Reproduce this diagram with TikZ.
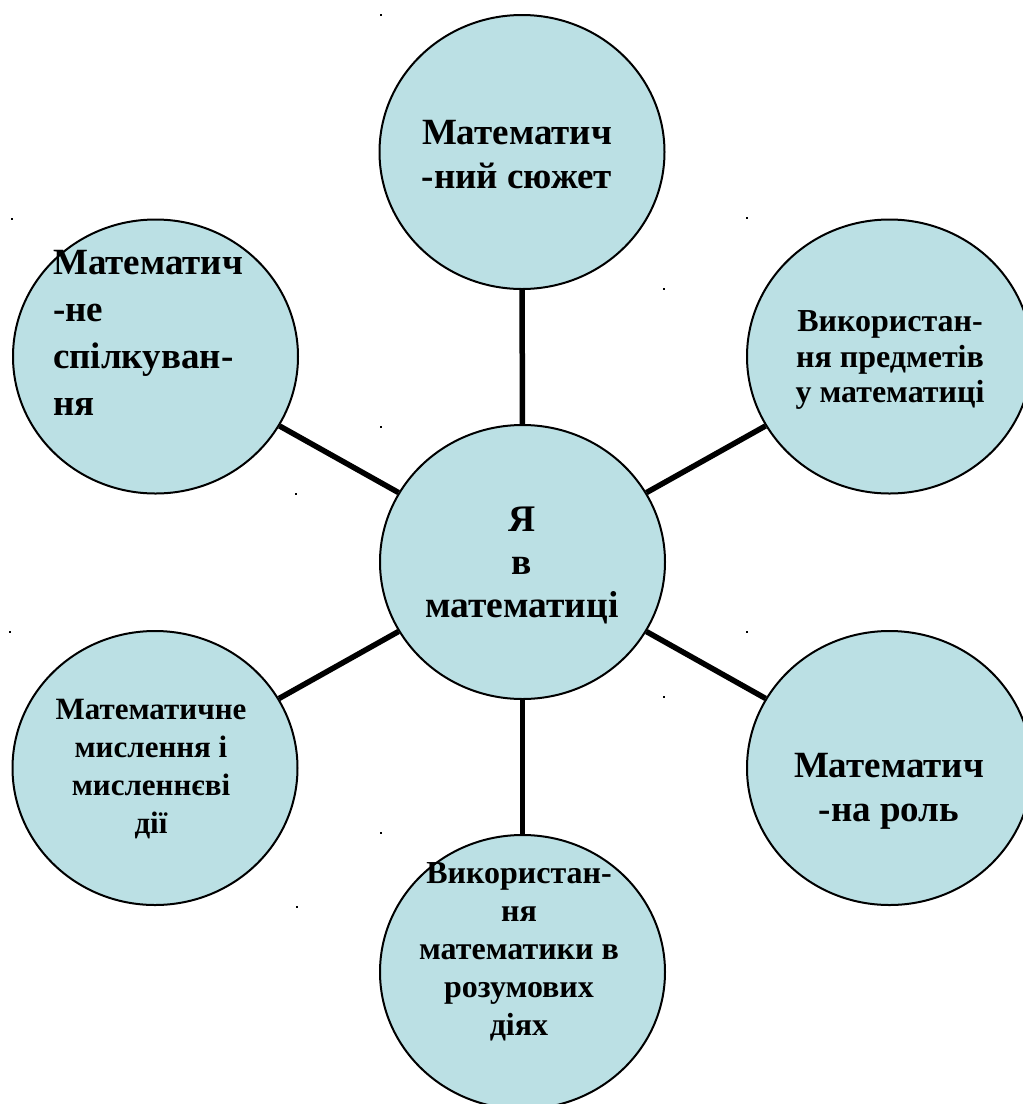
\documentclass[tikz,border=0pt]{standalone}
\usepackage{fontspec}
\setmainfont{Liberation Serif}
\usetikzlibrary{shapes.geometric}
\definecolor{bubble}{RGB}{187,224,228}
\begin{document}
\begin{tikzpicture}[x=1pt,y=-1pt,
  bub/.style={ellipse,draw=black,line width=2pt,fill=bubble,minimum width=285pt,minimum height=274pt,inner sep=0pt},
  bigtxt/.style={font=\bfseries\fontsize{37}{44}\selectfont,align=center,inner sep=0pt},
  smalltxt/.style={font=\bfseries\fontsize{32}{37}\selectfont,align=center,inner sep=0pt},
  link/.style={line width=5.5pt,draw=black},
  speck/.style={fill=black}]
\useasboundingbox (0,0) rectangle (1023,1104);
\fill[white] (0,0) rectangle (1023,1104);
% circles
\node[bub] (c0) at (522.5,562) {};
\node[bub] (c1) at (522,152) {};
\node[bub] (c2) at (889.5,356.5) {};
\node[bub] (c3) at (889.5,768) {};
\node[bub] (c4) at (522.5,972) {};
\node[bub] (c5) at (155,768) {};
\node[bub] (c6) at (155.5,356.5) {};
% connectors
\draw[link] (c0) -- (c1);
\draw[link] (c0) -- (c2);
\draw[link] (c0) -- (c3);
\draw[link] (c0) -- (c4);
\draw[link] (c0) -- (c5);
\draw[link] (c0) -- (c6);
% texts
\node[bigtxt,font=\bfseries\fontsize{37.5}{43}\selectfont] (t0) at (522,565) {Я\\в\\математиці};
\node[bigtxt] (t1) at (517,155) {Математич\\-ний сюжет};
\node[smalltxt,font=\bfseries\fontsize{32}{35.5}\selectfont] (t2) at (890,360) {Використан-\\ня предметів\\у математиці};
\node[bigtxt] (t3) at (889,791) {Математич\\-на роль};
\node[smalltxt,font=\bfseries\fontsize{32}{38}\selectfont] (t4) at (519,952) {Використан-\\ня\\математики в\\розумових\\діях};
\node[smalltxt,font=\bfseries\fontsize{31}{37.7}\selectfont] (t5) at (151,769) {Математичне\\мислення і\\мисленнєві\\дії};
\node[bigtxt,font=\bfseries\fontsize{37}{47}\selectfont,align=left,anchor=west] (t6) at (53,333) {Математич\\-не\\спілкуван-\\ня};
% small specks
\foreach \px/\py in {381/15,664/289,747/218,12/219,296/494,381/427,664/697,10/632,297/907,747/632,381/833}
  \fill[speck] (\px-1.2,\py-1.2) rectangle (\px+1.2,\py+1.2);
\end{tikzpicture}
\end{document}
